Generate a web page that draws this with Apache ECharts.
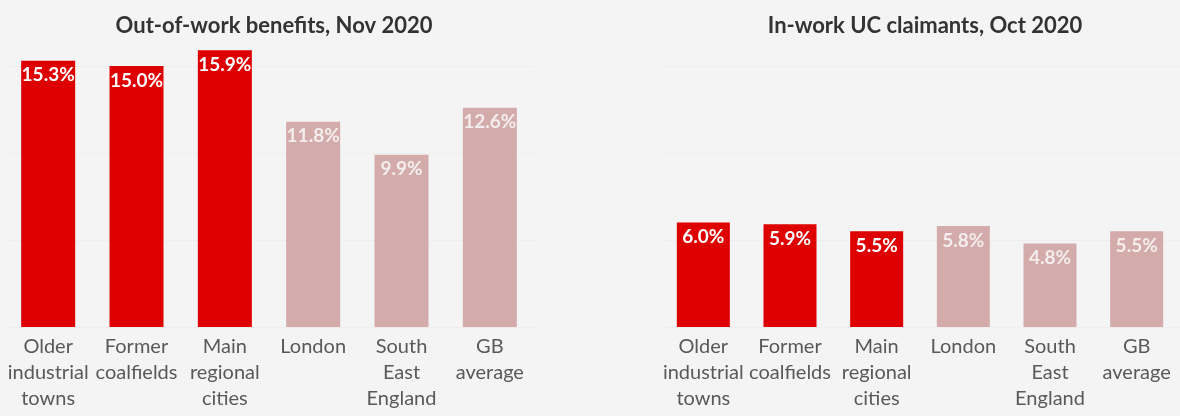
<!DOCTYPE html>
<html>
<head>
<meta charset="utf-8">
<script src="https://cdn.jsdelivr.net/npm/echarts@6/dist/echarts.min.js"></script>
<style>
  html, body { margin: 0; padding: 0; background: #f4f4f4; }
  #chart { width: 1180px; height: 416px; }
</style>
</head>
<body>
<div id="chart"></div>
<script>
// ---- data ----
const categories = ["Older\nindustrial\ntowns", "Former\ncoalfields", "Main\nregional\ncities", "London", "South\nEast\nEngland", "GB\naverage"];
const groups = ["focus", "focus", "focus", "comparison", "comparison", "comparison"];
const outOfWorkValues = [15.3, 15.0, 15.9, 11.8, 9.9, 12.6];
const inWorkValues = [6.0, 5.9, 5.5, 5.8, 4.8, 5.5];
const titles = ["Out-of-work benefits, Nov 2020", "In-work UC claimants, Oct 2020"];

// ---- styles ----
const groupColor = { focus: "#de0000", comparison: "#d4abab" };
const groupLabelColor = { focus: "#ffffff", comparison: "#f3eded" };
const FONT = "Lato, 'Open Sans', sans-serif";

function makeData(values) {
  return values.map((v, i) => ({
    value: v,
    itemStyle: { color: groupColor[groups[i]] },
    label: { color: groupLabelColor[groups[i]] }
  }));
}

function xAxis(gridIndex) {
  return {
    type: "category", gridIndex, data: categories,
    axisLine: { show: false }, axisTick: { show: false },
    axisLabel: { color: "#595959", fontSize: 20, lineHeight: 26, margin: 7, fontFamily: FONT, interval: 0 }
  };
}
function yAxis(gridIndex) {
  return {
    type: "value", gridIndex, min: 0, max: 15, interval: 5,
    axisLabel: { show: false }, axisLine: { show: false }, axisTick: { show: false },
    splitLine: { show: true, lineStyle: { color: "#eeeeee", width: 1 } }
  };
}
function barSeries(idx, values, width) {
  return {
    type: "bar", xAxisIndex: idx, yAxisIndex: idx, data: makeData(values),
    barWidth: width, clip: false,
    label: {
      show: true, position: "insideTop", distance: 5,
      fontSize: 19, fontWeight: "bold", fontFamily: FONT,
      formatter: p => p.value.toFixed(1) + "%"
    }
  };
}

const chart = echarts.init(document.getElementById("chart"), null, { renderer: "canvas" });
chart.setOption({
  animation: false,
  backgroundColor: "#f4f4f4",
  title: [
    { text: titles[0], left: 269, top: 10, textAlign: "center",
      textStyle: { fontSize: 22, fontWeight: "bold", color: "#333333", fontFamily: FONT } },
    { text: titles[1], left: 920, top: 10, textAlign: "center",
      textStyle: { fontSize: 22, fontWeight: "bold", color: "#333333", fontFamily: FONT } }
  ],
  grid: [
    { left: 4, right: 646, top: 66, bottom: 89 },
    { left: 660, right: 0, top: 66, bottom: 89 }
  ],
  xAxis: [xAxis(0), xAxis(1)],
  yAxis: [yAxis(0), yAxis(1)],
  series: [barSeries(0, outOfWorkValues, 54), barSeries(1, inWorkValues, 53)]
});
</script>
</body>
</html>
